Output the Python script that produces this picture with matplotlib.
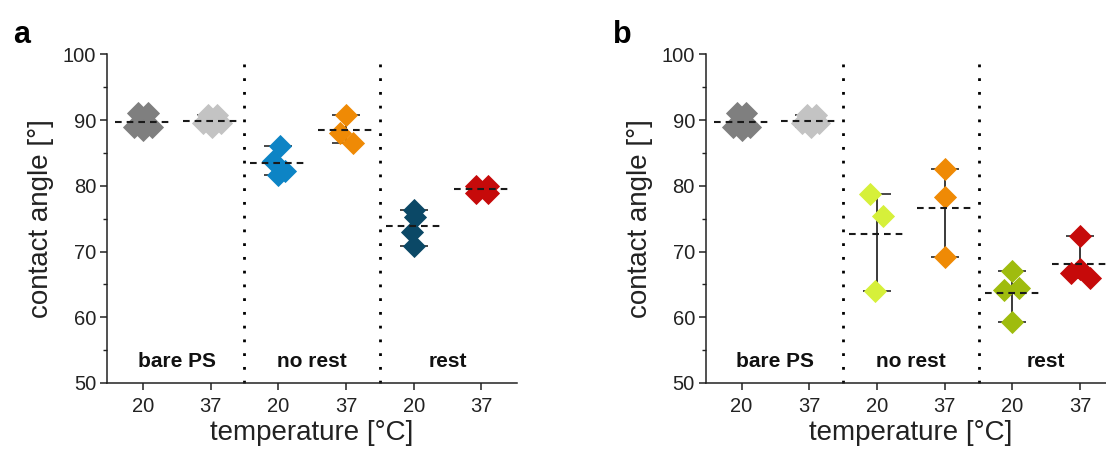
import numpy as np
import matplotlib
matplotlib.use("Agg")
import matplotlib.pyplot as plt

plt.rcParams['font.family'] = ['Liberation Sans', 'DejaVu Sans']

# ---- data -------------------------------------------------------------
group_labels = ["bare PS", "no rest", "rest"]
temp_labels = ["20", "37", "20", "37", "20", "37"]
y_ticks = [50, 60, 70, 80, 90, 100]

# panel a: contact angles [deg]
a_bare_20 = [91.0, 91.0, 89.0, 89.0, 88.5]
a_bare_37 = [90.75, 90.75, 89.5, 89.5, 89.0]
a_norest_20 = [86.0, 83.7, 82.3, 81.7]
a_norest_37 = [90.75, 88.0, 86.5]
a_rest_20 = [76.3, 75.2, 73.0, 70.8]
a_rest_37 = [80.0, 80.0, 78.9, 78.9]

# panel b: contact angles [deg]
b_bare_20 = [91.0, 91.0, 89.0, 89.0, 88.5]
b_bare_37 = [90.75, 90.75, 89.5, 89.5, 89.0]
b_norest_20 = [78.8, 75.4, 64.0]
b_norest_37 = [82.5, 78.3, 69.2]
b_rest_20 = [67.1, 64.2, 64.4, 59.3]
b_rest_37 = [72.4, 67.4, 66.7, 65.9]

# ---- styling / layout -------------------------------------------------
gray_dark = "#7f7f7f"
gray_light = "#c3c3c3"
colors_a = [gray_dark, gray_light, "#0d84c5", "#ef8a05", "#0b4866", "#c60a0a"]
colors_b = [gray_dark, gray_light, "#d6f03a", "#ef8a05", "#9fbc0e", "#c60a0a"]

# horizontal spread of overlapping points within a category
jit_a = [[-0.07, 0.07, -0.13, 0.13, 0.0],
         [-0.04, 0.10, -0.11, 0.15, 0.02],
         [0.02, -0.08, 0.10, 0.0],
         [0.0, -0.09, 0.10],
         [0.0, 0.02, -0.02, 0.0],
         [-0.075, 0.10, -0.075, 0.10]]
jit_b = [[-0.07, 0.07, -0.13, 0.13, 0.0],
         [-0.04, 0.10, -0.11, 0.15, 0.02],
         [-0.10, 0.09, -0.03],
         [0.0, 0.0, 0.0],
         [0.0, -0.12, 0.10, 0.0],
         [0.0, 0.0, -0.13, 0.14]]

W, H = 1106, 453
fig = plt.figure(figsize=(W / 100, H / 100), dpi=100)

ax_bottom = (H - 383) / H
ax_height = (383 - 54.3) / H
ax_width = 409.6 / W
ax_a = fig.add_axes([107.3 / W, ax_bottom, ax_width, ax_height])
ax_b = fig.add_axes([706.0 / W, ax_bottom, ax_width, ax_height])


def draw_panel(ax, series, colors, jitter):
    xs = np.arange(1, len(series) + 1)
    for x, vals, col, jit in zip(xs, series, colors, jitter):
        vals = np.asarray(vals)
        lo, hi = vals.min(), vals.max()
        # min-max range with caps
        ax.errorbar([x], [(lo + hi) / 2], yerr=[[(hi - lo) / 2], [(hi - lo) / 2]],
                    fmt='none', ecolor="#3a3a3a", elinewidth=1.4, capsize=10,
                    capthick=1.3, zorder=2)
        ax.plot(x + np.asarray(jit), vals, linestyle='none', marker='D',
                markersize=11, color=col, markeredgecolor=col,
                markeredgewidth=0.6, zorder=3)
        # mean line
        m = vals.mean()
        ax.plot([x - 0.41, x + 0.41], [m, m], color="#1a1a1a", lw=1.5,
                dashes=(3.2, 2.4), zorder=4)

    for sep in (2.5, 4.5):
        ax.plot([sep, sep], [50, 100], color="black", lw=2.0,
                linestyle=(0, (1, 3.95)), zorder=1, clip_on=False)

    for gx, lab in zip((1.5, 3.5, 5.5), group_labels):
        ax.text(gx, 53.2, lab, ha='center', va='center', fontsize=15,
                fontweight='bold', color="#111111")

    ax.set_xlim(0.475, 6.525)
    ax.set_ylim(50, 100)
    ax.set_xticks(xs)
    ax.set_xticklabels(temp_labels)
    ax.set_yticks(y_ticks)
    ax.set_yticks(np.arange(55, 100, 10), minor=True)
    ax.tick_params(axis='both', which='major', direction='out', length=5,
                   width=1.1, labelsize=14.5, color="#222222", labelcolor="#222222")
    ax.tick_params(axis='y', which='minor', direction='out', length=3, width=1.0,
                   color="#222222")
    ax.tick_params(axis='x', pad=5)
    ax.tick_params(axis='y', pad=3)
    for side in ('top', 'right'):
        ax.spines[side].set_visible(False)
    for side in ('left', 'bottom'):
        ax.spines[side].set_linewidth(1.1)
        ax.spines[side].set_color("#222222")
    ax.set_xlabel("temperature [°C]", fontsize=20, color="#222222", labelpad=3)
    ax.set_ylabel("contact angle [°]", fontsize=20, color="#222222", labelpad=6)


draw_panel(ax_a, [a_bare_20, a_bare_37, a_norest_20, a_norest_37, a_rest_20, a_rest_37],
           colors_a, jit_a)
draw_panel(ax_b, [b_bare_20, b_bare_37, b_norest_20, b_norest_37, b_rest_20, b_rest_37],
           colors_b, jit_b)

fig.text(13 / W, 1 - 43 / H, "a", fontsize=22, fontweight='bold', va='baseline')
fig.text(613 / W, 1 - 43 / H, "b", fontsize=22, fontweight='bold', va='baseline')

fig.savefig("out.png", dpi=100, facecolor="white")
